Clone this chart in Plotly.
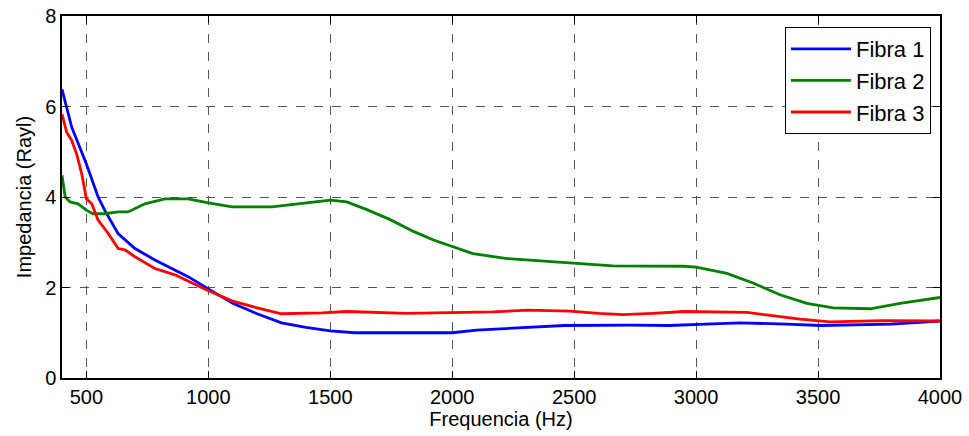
import plotly.graph_objects as go

f1 = [400, 440, 500, 548, 575, 630, 699, 781, 850, 917, 1000, 1100, 1200, 1300, 1400, 1500, 1600, 2000, 2100, 2220, 2340, 2460, 2730, 2890, 3040, 3180, 3370, 3510, 3800, 3960, 4000]
v1 = [6.38, 5.54, 4.73, 4.0, 3.71, 3.19, 2.86, 2.61, 2.42, 2.24, 1.97, 1.65, 1.42, 1.22, 1.12, 1.04, 1.0, 1.0, 1.06, 1.09, 1.13, 1.16, 1.17, 1.16, 1.19, 1.22, 1.19, 1.16, 1.19, 1.24, 1.26]

f2 = [400, 413, 433, 466, 500, 527, 575, 630, 671, 740, 822, 917, 1000, 1097, 1261, 1396, 1500, 1568, 1650, 1746, 1841, 1923, 2000, 2085, 2224, 2388, 2500, 2659, 2946, 3000, 3126, 3233, 3344, 3454, 3562, 3714, 3836, 4000]
v2 = [4.48, 4.0, 3.89, 3.85, 3.71, 3.63, 3.63, 3.67, 3.67, 3.85, 3.96, 3.96, 3.87, 3.78, 3.78, 3.87, 3.93, 3.89, 3.72, 3.5, 3.24, 3.05, 2.9, 2.75, 2.64, 2.58, 2.54, 2.48, 2.47, 2.45, 2.31, 2.1, 1.84, 1.65, 1.55, 1.53, 1.65, 1.78]

f3 = [400, 419, 440, 460, 481, 500, 522, 548, 590, 630, 658, 699, 781, 863, 1000, 1100, 1200, 1300, 1466, 1568, 1814, 2167, 2311, 2483, 2600, 2700, 2823, 2950, 3208, 3315, 3426, 3549, 3766, 4000]
v3 = [5.83, 5.43, 5.25, 4.95, 4.51, 3.96, 3.85, 3.49, 3.19, 2.86, 2.83, 2.68, 2.42, 2.28, 1.93, 1.7, 1.55, 1.42, 1.44, 1.47, 1.43, 1.46, 1.5, 1.48, 1.43, 1.4, 1.43, 1.47, 1.45, 1.38, 1.3, 1.24, 1.27, 1.26]

names = ["Fibra 1", "Fibra 2", "Fibra 3"]
colors = ["#0000FF", "#008000", "#FF0000"]
xticks = [500, 1000, 1500, 2000, 2500, 3000, 3500, 4000]
yticks = [0, 2, 4, 6, 8]

fig = go.Figure()
for i, (f, v) in enumerate([(f1, v1), (f2, v2), (f3, v3)]):
    fig.add_trace(go.Scatter(x=f, y=v, mode="lines", name=names[i],
                             legendgroup=names[i],
                             line=dict(color=colors[i], width=2.8)))

font = "Liberation Sans, Arial, sans-serif"
axis_common = dict(showline=True, linecolor="black", linewidth=1.5, mirror="ticks",
                   ticks="inside", ticklen=7, tickcolor="black", automargin=False,
                   showgrid=True, gridcolor="#555555", griddash="dash", gridwidth=1,
                   zeroline=False, tickfont=dict(family=font, size=20, color="black"))

fig.update_layout(
    width=969, height=436,
    margin=dict(l=62, r=29, t=16, b=58),
    paper_bgcolor="white", plot_bgcolor="white",
    font=dict(family=font, color="black"),
    xaxis=dict(range=[400, 4000], tickvals=xticks,
               title=dict(text="Frequencia (Hz)", font=dict(family=font, size=20), standoff=2),
               **axis_common),
    yaxis=dict(range=[0, 8], tickvals=yticks,
               title=dict(text="Impedancia (Rayl)", font=dict(family=font, size=20), standoff=8),
               **axis_common),
    legend=dict(x=0.9897, y=0.9696, xanchor="right", yanchor="top",
                bgcolor="white", bordercolor="black", borderwidth=1,
                font=dict(family=font, size=22, color="black"),
                tracegroupgap=0, itemwidth=60),
    showlegend=True,
)

fig.write_html("out.html")
